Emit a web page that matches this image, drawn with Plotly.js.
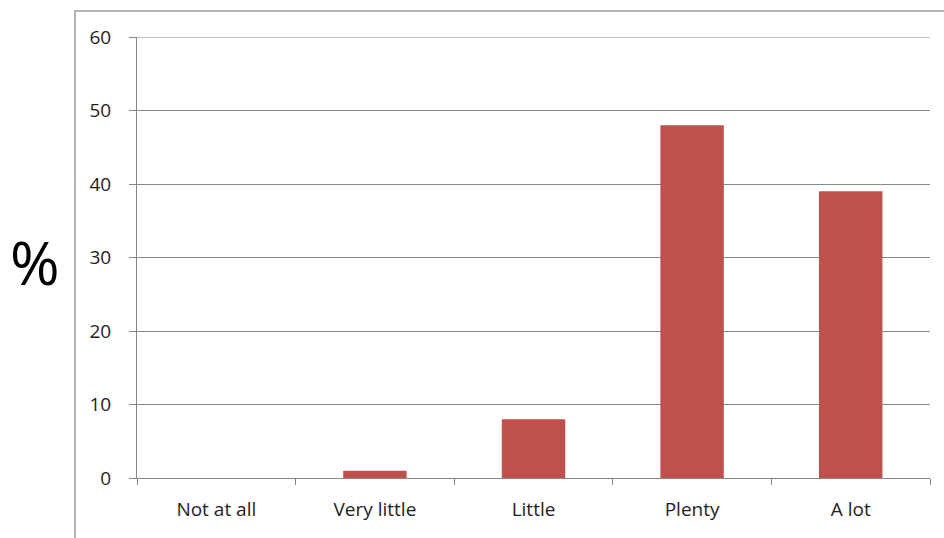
<!DOCTYPE html>
<html>
<head>
<meta charset="utf-8">
<script src="https://cdn.plot.ly/plotly-3.0.1.min.js"></script>
<style>
html,body{margin:0;padding:0;background:#fff;}
#chart{width:944px;height:538px;}
</style>
</head>
<body>
<div id="chart"></div>
<script>
const categories = ["Not at all", "Very little", "Little", "Plenty", "A lot"];
const percentValues = [0, 1, 8, 48, 39];
const yTickValues = [0, 10, 20, 30, 40, 50, 60];
const yAxisLabel = "%";

const trace = {
  type: "bar",
  x: categories,
  y: percentValues,
  marker: {color: "#C0504D"},
  hoverinfo: "x+y"
};

const layout = {
  width: 944,
  height: 538,
  margin: {l: 137, r: 14, t: 37, b: 60},
  paper_bgcolor: "#ffffff",
  plot_bgcolor: "#ffffff",
  showlegend: false,
  bargap: 0.6,
  font: {family: "Open Sans, sans-serif", size: 19, color: "#1e1e1e"},
  xaxis: {
    type: "category",
    tickson: "boundaries",
    ticks: "outside",
    ticklen: 6,
    tickcolor: "#868686",
    showgrid: false,
    showline: true,
    linecolor: "#868686",
    linewidth: 1,
    ticklabelstandoff: 14,
    tickfont: {size: 19, color: "#1e1e1e"},
    zeroline: false,
    fixedrange: true
  },
  yaxis: {
    range: [0, 60],
    tickvals: yTickValues,
    ticks: "outside",
    ticklen: 7,
    tickcolor: "#868686",
    showgrid: true,
    gridcolor: "#868686",
    gridwidth: 1,
    showline: true,
    linecolor: "#868686",
    linewidth: 1,
    zeroline: false,
    ticklabelstandoff: 14,
    tickfont: {size: 19, color: "#1e1e1e"},
    fixedrange: true
  },
  annotations: [{
    text: yAxisLabel,
    xref: "paper", yref: "paper",
    x: -0.128, y: 0.49,
    xanchor: "center", yanchor: "middle",
    showarrow: false,
    font: {size: 60, color: "#000000", family: "Open Sans, sans-serif"}
  }],
  shapes: [{
    type: "path",
    xref: "paper", yref: "paper",
    path: "M -0.0782,-0.2 L -0.0782,1.059 L 1.1,1.059",
    line: {color: "#9a9a9a", width: 1.5}
  }, {
    type: "line",
    xref: "paper", yref: "y",
    x0: 0, x1: 1, y0: 60, y1: 60,
    line: {color: "#868686", width: 1}
  }]
};

Plotly.newPlot("chart", [trace], layout, {displayModeBar: false, staticPlot: true});
</script>
</body>
</html>
